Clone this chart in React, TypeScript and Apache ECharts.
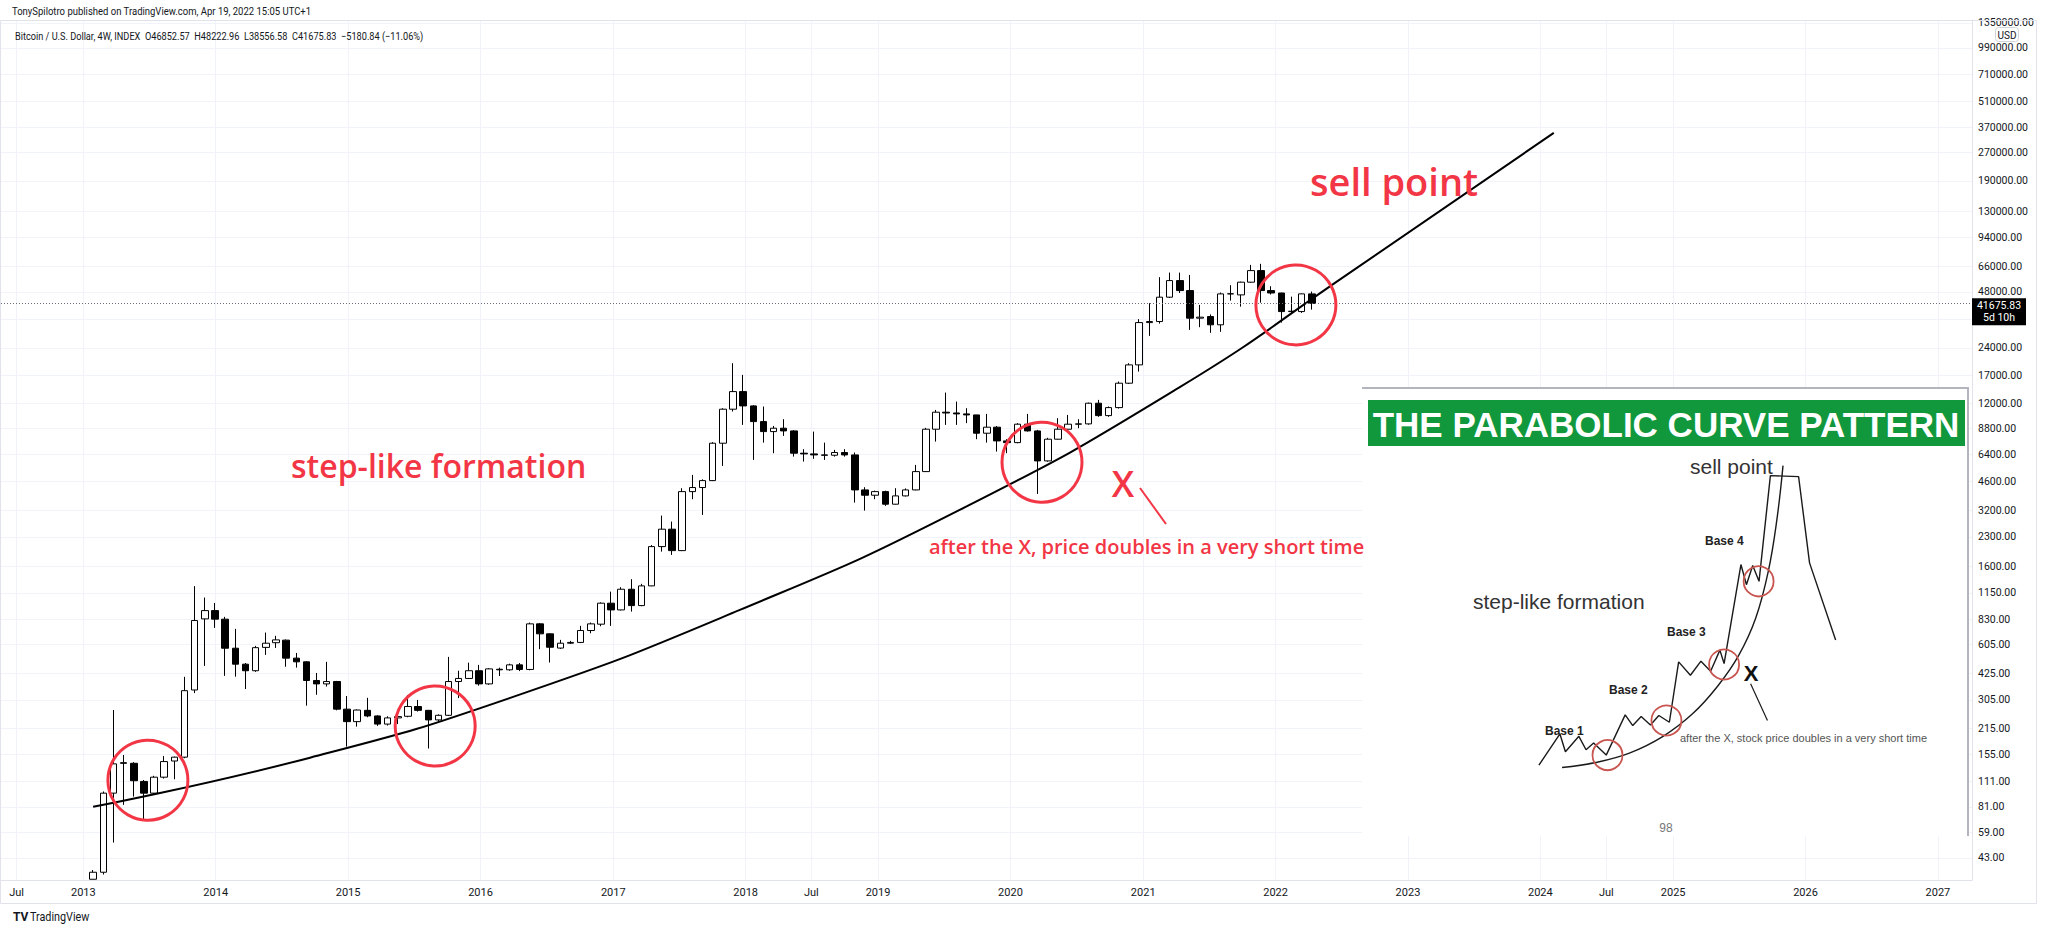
import React, { useEffect, useRef } from 'react';
import * as echarts from 'echarts';

const utc = (s: string) => {
  const [y, m, d] = s.split('-').map(Number);
  return Date.UTC(y, m - 1, d);
};

// ---- Candles: 4-week bars from 2013-01-28 ----
const firstCandleDate = '2013-01-28';
const candleStepDays = 28;

const candleOpen = [
  33, 36, 96, 140, 139, 111, 96, 117, 143, 150,
  345, 833, 923, 830, 579, 475, 438, 585, 620, 640,
  512, 489, 388, 372, 383, 272, 233, 268, 250, 226,
  244, 249, 281, 268, 238, 252, 383, 398, 438, 372,
  446, 443, 471, 445, 783, 692, 580, 616, 622, 721,
  780, 1012, 931, 1203, 982, 1254, 2041, 2533, 1942, 4036,
  4245, 4626, 7355, 11213, 13948, 11682, 9615, 8493, 8858, 8567,
  6498, 6442, 6362, 6336, 6554, 6362, 4122, 3860, 4036, 3453,
  3827, 4122, 5173, 8750, 10804, 10700, 10578, 10447, 8326, 8970,
  7568, 7410, 9310, 8567, 5906, 7730, 8750, 9310, 9346, 12078,
  10358, 11437, 15481, 19427, 32821, 33240, 44970, 55245, 48800, 34664,
  35390, 31930, 46840, 46260, 54160, 62530, 48800, 47360, 37620, 37620,
  46852.57,
];
const candleClose = [
  36, 96, 138, 139, 112, 96, 117, 142, 150, 342,
  816, 923, 830, 579, 475, 438, 583, 616, 642, 512,
  489, 388, 372, 383, 272, 233, 269, 250, 226, 244,
  248, 281, 268, 238, 252, 383, 398, 438, 372, 448,
  443, 471, 445, 783, 692, 586, 616, 622, 721, 783,
  1012, 931, 1203, 982, 1254, 2041, 2533, 1942, 4036, 4245,
  4626, 7355, 11213, 13948, 11682, 9615, 8493, 8858, 8567, 6498,
  6442, 6362, 6336, 6554, 6362, 4122, 3860, 4036, 3453, 3827,
  4122, 5173, 8750, 10804, 10700, 10578, 10447, 8326, 8970, 7568,
  7410, 9310, 8567, 5906, 7730, 8750, 9310, 9346, 12078, 10358,
  11437, 15481, 19427, 32821, 33240, 44970, 55245, 48800, 34664, 35100,
  31930, 46840, 46900, 54160, 62530, 48800, 47360, 37620, 37800, 46852.57,
  41675.83,
];
const candleLow = [
  33, 35, 52, 83, 92, 69, 94, 115, 114, 148,
  332, 465, 745, 411, 407, 349, 432, 533, 581, 460,
  455, 284, 325, 360, 268, 171, 219, 246, 221, 222,
  226, 246, 264, 167, 233, 250, 312, 396, 364, 368,
  410, 438, 436, 440, 572, 485, 574, 610, 617, 697,
  760, 764, 925, 912, 975, 1250, 1918, 1841, 1930, 3674,
  3024, 4600, 5551, 10900, 9229, 5980, 7410, 6498, 8053, 6230,
  5855, 6060, 5980, 6230, 6230, 3522, 3189, 3674, 3381, 3440,
  3800, 4100, 5150, 7503, 9229, 9229, 9435, 7730, 7410, 6629,
  6498, 7350, 8500, 3922, 5850, 7700, 8700, 8858, 9250, 10200,
  10200, 11300, 15320, 17880, 27831, 32400, 44500, 47360, 29981, 31000,
  28900, 29270, 43100, 40000, 53800, 42000, 46500, 32820, 36750, 37000,
  38556.58,
];
const candleHigh = [
  37, 98, 269, 154, 141, 113, 119, 152, 151, 406,
  1250, 1085, 1015, 854, 736, 482, 596, 703, 675, 645,
  546, 492, 426, 489, 386, 320, 271, 313, 252, 249,
  261, 324, 305, 269, 255, 520, 438, 484, 471, 452,
  455, 478, 482, 796, 790, 695, 642, 634, 764, 796,
  1022, 1168, 1234, 1363, 1286, 2080, 2998, 2783, 4210, 4965,
  4700, 7450, 11350, 19838, 17160, 11800, 11593, 9115, 9906, 8650,
  6829, 8493, 7410, 6770, 6829, 6554, 4263, 4086, 4080, 4210,
  4200, 5620, 8900, 11116, 13775, 12320, 11353, 10450, 10578, 9100,
  7730, 9435, 10578, 8674, 7866, 10029, 10447, 9906, 12170, 12583,
  11600, 15800, 19838, 34240, 41740, 57627, 60994, 60994, 59280, 40860,
  36330, 47630, 52200, 54500, 67110, 68000, 51500, 47500, 45260, 47000,
  48222.96,
];

const lastClose = 41675.83;
const lastCloseLabel = '41675.83\n5d 10h';

// ---- Drawn parabolic curve (log price vs time) ----
const curveDates = ['2013-01-28', '2014-09-18', '2016-03-23', '2017-12-16', '2019-08-14', '2021-04-13', '2022-07-24', '2024-02-07'];
const curveValues = [81, 149, 313, 931, 3217, 14785, 60770, 344800];

// ---- Red circles ----
const circleDates = ['2013-06-28', '2015-08-29', '2020-03-28', '2022-02-26'];
const circleValues = [112.7, 220.7, 5812, 40870];

// ---- Axis ticks ----
const priceTicks = [43, 59, 81, 111, 155, 215, 305, 425, 605, 830, 1150, 1600, 2300, 3200, 4600, 6400, 8800, 12000, 17000, 24000, 34000, 48000, 66000, 94000, 130000, 190000, 270000, 370000, 510000, 710000, 990000, 1350000];
const hiddenPriceLabels = [34000]; // covered by the last-price tag
const timeTicks = ['2012-07-01', '2013-01-01', '2014-01-01', '2015-01-01', '2016-01-01', '2017-01-01', '2018-01-01', '2018-07-01', '2019-01-01', '2020-01-01', '2021-01-01', '2022-01-01', '2023-01-01', '2024-01-01', '2024-07-01', '2025-01-01', '2026-01-01', '2027-01-01'];
const yMin = 32.7;
const yMax = 1398000;
const xMin = '2012-05-19';
const xMax = '2027-04-05';

// ---- Inset picture (units of the pasted picture) ----
const insetPathX = [425, 475, 488, 520, 537, 555, 585, 630, 648, 668, 690, 710, 735, 757, 785, 810, 833, 855, 865, 905, 918, 933, 948, 975, 1042, 1068, 1130];
const insetPathY = [1148, 1055, 1108, 1062, 1102, 1082, 1118, 998, 1030, 1003, 1028, 1000, 1020, 840, 880, 838, 868, 805, 845, 550, 610, 553, 600, 285, 288, 545, 775];
const insetCurveX = [480, 560, 640, 720, 790, 850, 900, 940, 970, 990, 1005];
const insetCurveY = [1155, 1140, 1112, 1062, 995, 912, 820, 710, 570, 420, 255];
const insetCircleX = [588, 728, 865, 947];
const insetCircleY = [1118, 1015, 848, 600];
const insetPointerX = [928, 968];
const insetPointerY = [905, 1015];

const RED = '#f23645';
const TXT = '#131722';

function buildOption() {
  const start = utc(firstCandleDate);
  const step = candleStepDays * 24 * 3600 * 1000;
  const candleData = candleOpen.map((o, i) => [start + i * step, o, candleClose[i], candleLow[i], candleHigh[i]]);
  const tickTimes = timeTicks.map(utc);
  const logTicks = priceTicks.map((p) => Math.log10(p));
  const logLabelTicks = priceTicks.filter((p) => !hiddenPriceLabels.includes(p)).map((p) => Math.log10(p));

  const redFont = { fontFamily: '"Open Sans"', fontWeight: 600 };

  const graphic: any[] = [
    { type: 'rect', silent: true, z: 1, shape: { x: 0.5, y: 20.5, width: 2036, height: 883 }, style: { fill: 'none', stroke: '#e0e3eb', lineWidth: 1 } },
    { type: 'text', silent: true, x: 12, y: 11, scaleX: 0.865, z: 30, style: { text: 'TonySpilotro published on TradingView.com, Apr 19, 2022 15:05 UTC+1', fontSize: 11, fontFamily: 'Roboto', fill: TXT, verticalAlign: 'middle', textVerticalAlign: 'middle' } },
    { type: 'text', silent: true, x: 15, y: 36, scaleX: 0.835, z: 30, style: { text: 'Bitcoin / U.S. Dollar, 4W, INDEX  O46852.57  H48222.96  L38556.58  C41675.83  \u22125180.84 (\u221211.06%)', fontSize: 11, fontFamily: 'Roboto', fill: TXT, verticalAlign: 'middle', textVerticalAlign: 'middle' } },
    // USD badge
    { type: 'rect', silent: true, z: 30, shape: { x: 1995.5, y: 27.5, width: 23, height: 14, r: 3 }, style: { fill: '#ffffff', stroke: '#d1d4dc', lineWidth: 1 } },
    { type: 'text', silent: true, z: 31, x: 2007, y: 35, style: { text: 'USD', fontSize: 10, fontFamily: 'Roboto', fill: TXT, align: 'center', textAlign: 'center', verticalAlign: 'middle', textVerticalAlign: 'middle' } },
    // TradingView logo
    { type: 'text', silent: true, z: 30, x: 13, y: 917, style: { text: 'TV', fontSize: 12, fontWeight: 'bold', fontFamily: 'Roboto', fill: TXT, verticalAlign: 'middle', textVerticalAlign: 'middle' } },
    { type: 'text', silent: true, z: 30, x: 30, y: 917, scaleX: 0.9, style: { text: 'TradingView', fontSize: 12, fontFamily: 'Roboto', fill: TXT, verticalAlign: 'middle', textVerticalAlign: 'middle' } },
    // red annotations
    { type: 'text', silent: true, z: 20, x: 1310, y: 181, style: { text: 'sell point', fontSize: 38, ...redFont, fill: RED, verticalAlign: 'middle', textVerticalAlign: 'middle' } },
    { type: 'text', silent: true, z: 20, x: 291, y: 465, style: { text: 'step-like formation', fontSize: 32, ...redFont, fill: RED, verticalAlign: 'middle', textVerticalAlign: 'middle' } },
    { type: 'text', silent: true, z: 20, x: 1123, y: 483, style: { text: 'X', fontSize: 36, ...redFont, fill: RED, align: 'center', textAlign: 'center', verticalAlign: 'middle', textVerticalAlign: 'middle' } },
    { type: 'line', silent: true, z: 20, shape: { x1: 1140, y1: 488, x2: 1166, y2: 524 }, style: { stroke: RED, lineWidth: 2 } },
    { type: 'text', silent: true, z: 20, x: 929, y: 546, style: { text: 'after the X, price doubles in a very short time', fontSize: 20, ...redFont, fill: RED, verticalAlign: 'middle', textVerticalAlign: 'middle' } },
    // inset picture
    { type: 'rect', silent: true, z: 5, shape: { x: 1362, y: 388, width: 606, height: 448 }, style: { fill: '#ffffff' } },
    { type: 'polyline', silent: true, z: 6, shape: { points: [[1362, 388], [1968, 388], [1968, 836]] }, style: { fill: 'none', stroke: '#b2b5be', lineWidth: 2 } },
    { type: 'rect', silent: true, z: 6, shape: { x: 1368, y: 400, width: 597, height: 46 }, style: { fill: '#11973c' } },
    { type: 'text', silent: true, z: 7, x: 1666, y: 424, style: { text: 'THE PARABOLIC CURVE PATTERN', fontSize: 35, fontWeight: 'bold', fontFamily: '"Liberation Sans"', fill: '#ffffff', align: 'center', textAlign: 'center', verticalAlign: 'middle', textVerticalAlign: 'middle' } },
    { type: 'text', silent: true, z: 11, x: 1690, y: 466, style: { text: 'sell point', fontSize: 21, fontFamily: '"Liberation Sans"', fill: '#333333', verticalAlign: 'middle', textVerticalAlign: 'middle' } },
    { type: 'text', silent: true, z: 11, x: 1473, y: 601, style: { text: 'step-like formation', fontSize: 21, fontFamily: '"Liberation Sans"', fill: '#333333', verticalAlign: 'middle', textVerticalAlign: 'middle' } },
    { type: 'text', silent: true, z: 11, x: 1545, y: 731, style: { text: 'Base 1', fontSize: 12, fontWeight: 'bold', fontFamily: '"Liberation Sans"', fill: '#222222', verticalAlign: 'middle', textVerticalAlign: 'middle' } },
    { type: 'text', silent: true, z: 11, x: 1609, y: 690, style: { text: 'Base 2', fontSize: 12, fontWeight: 'bold', fontFamily: '"Liberation Sans"', fill: '#222222', verticalAlign: 'middle', textVerticalAlign: 'middle' } },
    { type: 'text', silent: true, z: 11, x: 1667, y: 632, style: { text: 'Base 3', fontSize: 12, fontWeight: 'bold', fontFamily: '"Liberation Sans"', fill: '#222222', verticalAlign: 'middle', textVerticalAlign: 'middle' } },
    { type: 'text', silent: true, z: 11, x: 1705, y: 541, style: { text: 'Base 4', fontSize: 12, fontWeight: 'bold', fontFamily: '"Liberation Sans"', fill: '#222222', verticalAlign: 'middle', textVerticalAlign: 'middle' } },
    { type: 'text', silent: true, z: 11, x: 1751, y: 673, style: { text: 'X', fontSize: 22, fontWeight: 'bold', fontFamily: '"Liberation Sans"', fill: '#111111', align: 'center', textAlign: 'center', verticalAlign: 'middle', textVerticalAlign: 'middle' } },
    { type: 'text', silent: true, z: 11, x: 1680, y: 738, style: { text: 'after the X, stock price doubles in a very short time', fontSize: 11, fontFamily: '"Liberation Sans"', fill: '#555555', verticalAlign: 'middle', textVerticalAlign: 'middle' } },
    { type: 'text', silent: true, z: 11, x: 1666, y: 828, style: { text: '98', fontSize: 12, fontFamily: '"Liberation Sans"', fill: '#777777', align: 'center', textAlign: 'center', verticalAlign: 'middle', textVerticalAlign: 'middle' } },
  ];

  return {
    animation: false,
    backgroundColor: '#ffffff',
    textStyle: { fontFamily: 'Roboto' },
    graphic,
    grid: [
      { left: 1, right: 76, top: 20, bottom: 51, outerBoundsMode: 'none', containLabel: false },
      { left: 1360, top: 380, width: 660, height: 460, outerBoundsMode: 'none', containLabel: false },
    ],
    xAxis: [
      {
        type: 'value', gridIndex: 0, min: utc(xMin), max: utc(xMax), scale: true,
        axisLine: { show: true, onZero: false, lineStyle: { color: '#e0e3eb' } },
        axisTick: { show: false, customValues: tickTimes },
        splitLine: { show: true, lineStyle: { color: '#f0f3fa', width: 1 } },
        axisLabel: {
          customValues: tickTimes, color: TXT, fontSize: 11, margin: 7, fontFamily: 'Roboto',
          formatter: (v: number) => {
            const d = new Date(v);
            return d.getUTCMonth() === 6 ? 'Jul' : String(d.getUTCFullYear());
          },
        },
      },
      { type: 'value', gridIndex: 1, min: 0, max: 1568, show: false },
    ],
    yAxis: [
      { type: 'log', logBase: 10, gridIndex: 0, min: yMin, max: yMax, position: 'right', show: false },
      {
        type: 'value', gridIndex: 0, min: Math.log10(yMin), max: Math.log10(yMax), position: 'right',
        axisLine: { show: true, onZero: false, lineStyle: { color: '#e0e3eb' } },
        axisTick: { show: false, customValues: logTicks },
        splitLine: { show: true, lineStyle: { color: '#f0f3fa', width: 1 } },
        axisLabel: {
          customValues: logLabelTicks, color: TXT, fontSize: 10.5, margin: 6, fontFamily: 'Roboto',
          formatter: (v: number) => {
            let best = priceTicks[0];
            for (const p of priceTicks) {
              if (Math.abs(Math.log10(p) - v) < Math.abs(Math.log10(best) - v)) best = p;
            }
            return best.toFixed(2);
          },
        },
      },
      { type: 'value', gridIndex: 1, min: 0, max: 1371, inverse: true, show: false },
    ],
    series: [
      {
        type: 'candlestick', name: 'BTCUSD', xAxisIndex: 0, yAxisIndex: 0,
        dimensions: ['time', 'open', 'close', 'lowest', 'highest'],
        encode: { x: 0, y: [1, 2, 3, 4] },
        data: candleData, barWidth: 7, clip: true, silent: true, z: 3,
        itemStyle: { color: '#ffffff', color0: '#000000', borderColor: '#000000', borderColor0: '#000000', borderWidth: 1 },
        markLine: {
          silent: true, symbol: 'none',
          lineStyle: { color: '#6a6d78', type: [1, 2], width: 1 },
          label: { show: false },
          data: [{ yAxis: lastClose }],
        },
        markPoint: {
          silent: true,
          symbol: 'rect', symbolSize: [54, 27], symbolOffset: [27, 8.5],
          itemStyle: { color: '#000000' },
          label: {
            show: true, position: 'inside', formatter: lastCloseLabel, color: '#ffffff',
            fontSize: 10.5, lineHeight: 12, fontFamily: 'Roboto', align: 'center',
          },
          data: [{ coord: [utc(xMax), lastClose] }],
        },
      },
      {
        type: 'line', name: 'curve', xAxisIndex: 0, yAxisIndex: 0, silent: true, z: 4,
        data: curveDates.map((d, i) => [utc(d), curveValues[i]]),
        smooth: 0.5, symbol: 'none',
        lineStyle: { color: '#000000', width: 2 },
      },
      {
        type: 'scatter', name: 'circles', xAxisIndex: 0, yAxisIndex: 0, silent: true, z: 5,
        data: circleDates.map((d, i) => [utc(d), circleValues[i]]),
        symbol: 'circle', symbolSize: 80,
        itemStyle: { color: 'rgba(0,0,0,0)', borderColor: RED, borderWidth: 3, opacity: 1 },
      },
      {
        type: 'line', name: 'insetPath', xAxisIndex: 1, yAxisIndex: 2, silent: true, z: 10,
        data: insetPathX.map((x, i) => [x, insetPathY[i]]), symbol: 'none',
        lineStyle: { color: '#1a1a1a', width: 1.4 },
      },
      {
        type: 'line', name: 'insetCurve', xAxisIndex: 1, yAxisIndex: 2, silent: true, z: 10,
        data: insetCurveX.map((x, i) => [x, insetCurveY[i]]), symbol: 'none', smooth: 0.4,
        lineStyle: { color: '#1a1a1a', width: 1.4 },
      },
      {
        type: 'line', name: 'insetPointer', xAxisIndex: 1, yAxisIndex: 2, silent: true, z: 10,
        data: insetPointerX.map((x, i) => [x, insetPointerY[i]]), symbol: 'none',
        lineStyle: { color: '#1a1a1a', width: 1.2 },
      },
      {
        type: 'scatter', name: 'insetCircles', xAxisIndex: 1, yAxisIndex: 2, silent: true, z: 11,
        data: insetCircleX.map((x, i) => [x, insetCircleY[i]]), symbol: 'circle', symbolSize: 30,
        itemStyle: { color: 'rgba(0,0,0,0)', borderColor: '#c8554f', borderWidth: 1.8, opacity: 1 },
      },
    ],
  };
}

export default function App() {
  const ref = useRef<HTMLDivElement>(null);
  useEffect(() => {
    if (!ref.current) return;
    const chart = echarts.init(ref.current, null, { renderer: 'svg' });
    chart.setOption(buildOption() as any);
    return () => chart.dispose();
  }, []);
  return (
    <div
      ref={ref}
      style={{ position: 'fixed', left: 0, top: 0, width: 2048, height: 931, background: '#ffffff' }}
    />
  );
}
